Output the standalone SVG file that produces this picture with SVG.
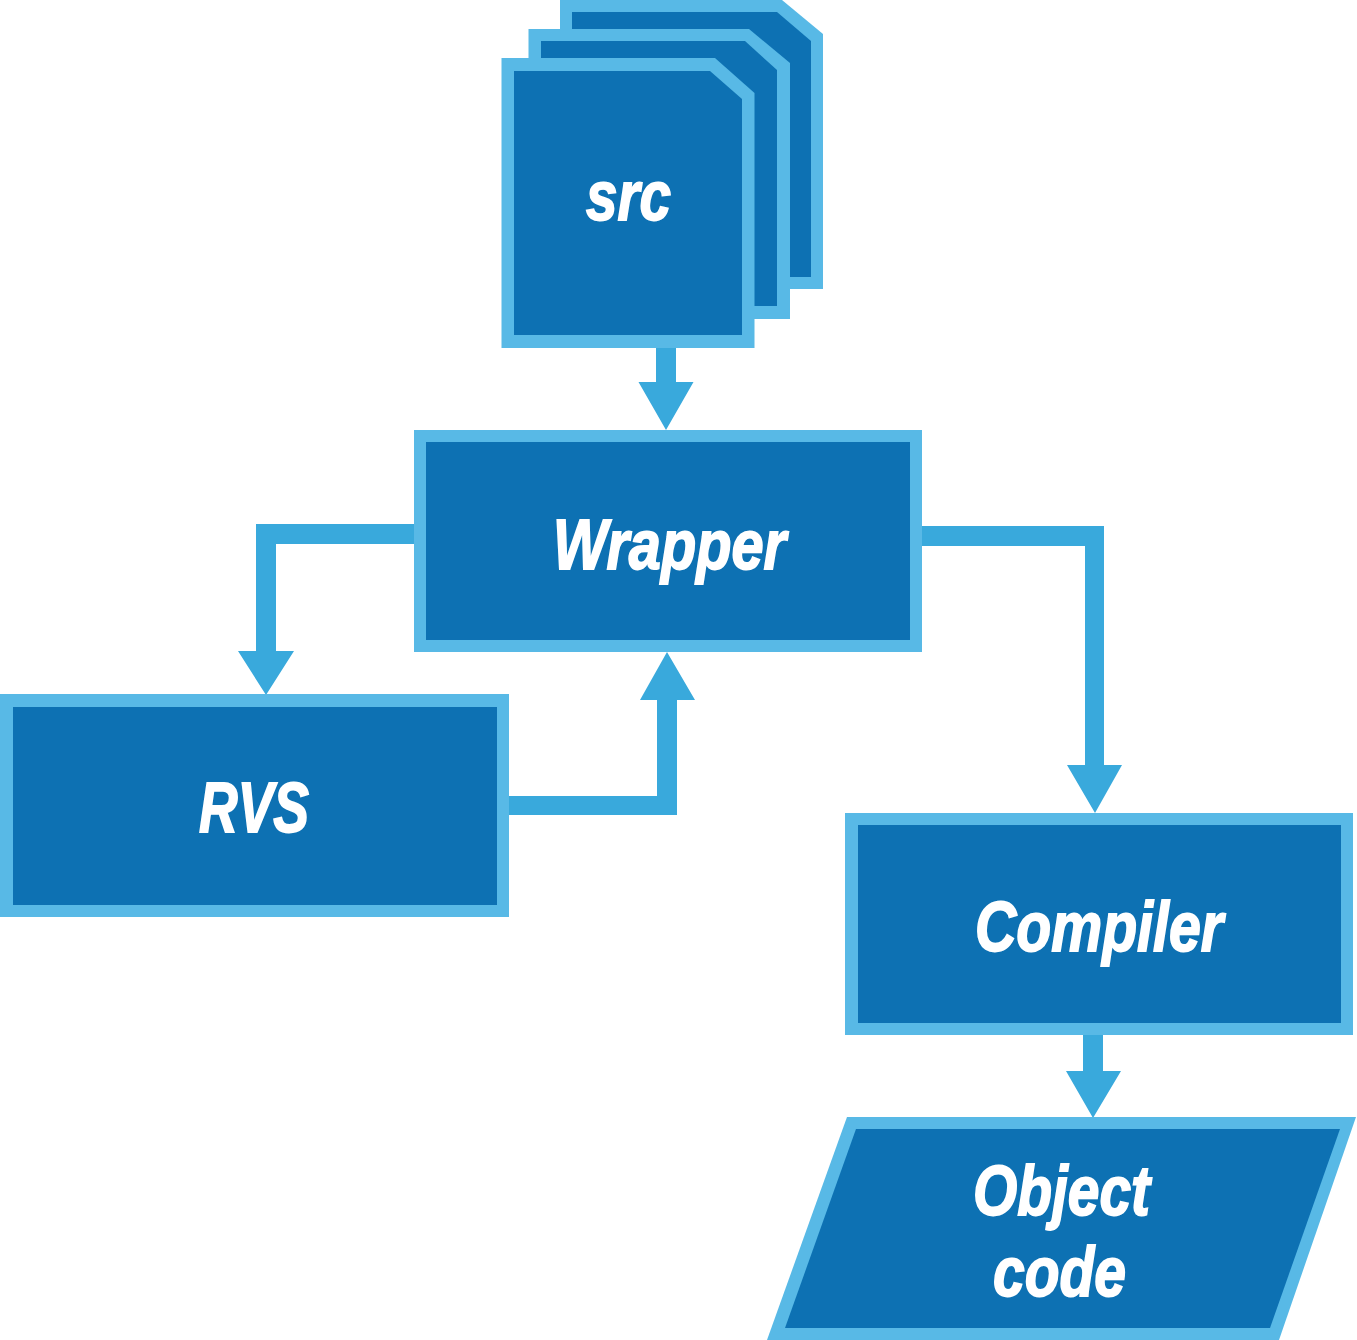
<svg xmlns="http://www.w3.org/2000/svg" width="1357" height="1340" viewBox="0 0 1357 1340">
<style>
.o{fill:#58b9e6}
.i{fill:#0d71b3}
.c{fill:#39a9dc}
text{fill:#fff;font-family:"Liberation Sans",Arial,sans-serif;font-weight:700;font-style:italic;font-size:70px;stroke:#fff;stroke-width:1.8}
</style>
<rect width="1357" height="1340" fill="#fff"/>
<g id="connectors">
<polygon class="c" points="656,346 676,346 676,382 693.500,382 666,430 638.500,382 656,382"/>
<polygon class="c" points="416,524 416,544 276,544 276,651 294,651 266,695 238,651 256,651 256,524"/>
<polygon class="c" points="507,796 657,796 657,700 640,700 667,652 695,700 677,700 677,815 507,815"/>
<polygon class="c" points="920,526 1104,526 1104,765 1122,765 1095,813 1067,765 1085,765 1085,546 920,546"/>
<polygon class="c" points="1083,1033 1103,1033 1103,1071 1121,1071 1093,1118 1066,1071 1083,1071"/>
</g>
<g id="src-back">
<polygon class="o" points="560,0 782,0 823,34 823,289 560,289"/>
<polygon class="i" points="572,12 777,12 811,41 811,277 572,277"/>
</g>
<g id="src-middle">
<polygon class="o" points="528.500,29 749,29 790,63 790,319 528.500,319"/>
<polygon class="i" points="541,41 745,41 777,70 777,306 541,306"/>
</g>
<g id="src">
<polygon class="o" points="501.500,58 715,58 754.500,93 754.500,348 501.500,348"/>
<polygon class="i" points="514,71 710,71 742,99 742,335 514,335"/>
<text x="586" y="220" textLength="85" lengthAdjust="spacingAndGlyphs">src</text>
</g>
<g id="wrapper">
<rect class="o" x="414" y="430" width="508" height="222"/>
<rect class="i" x="426" y="442" width="484" height="198"/>
<text x="553" y="569" textLength="233" lengthAdjust="spacingAndGlyphs">Wrapper</text>
</g>
<g id="rvs">
<rect class="o" x="0" y="694" width="509" height="223"/>
<rect class="i" x="13" y="707" width="484" height="198"/>
<text x="199" y="832" textLength="110" lengthAdjust="spacingAndGlyphs">RVS</text>
</g>
<g id="compiler">
<rect class="o" x="845" y="813" width="508" height="222"/>
<rect class="i" x="858" y="825" width="483" height="198"/>
<text x="975" y="951" textLength="248" lengthAdjust="spacingAndGlyphs">Compiler</text>
</g>
<g id="object-code">
<polygon class="o" points="847,1117 1356,1117 1279,1340 767,1340"/>
<polygon class="i" points="856,1129 1340,1129 1270,1328 785,1328"/>
<text x="973" y="1215" textLength="177" lengthAdjust="spacingAndGlyphs">Object</text>
<text x="993" y="1296" textLength="133" lengthAdjust="spacingAndGlyphs">code</text>
</g>
</svg>
